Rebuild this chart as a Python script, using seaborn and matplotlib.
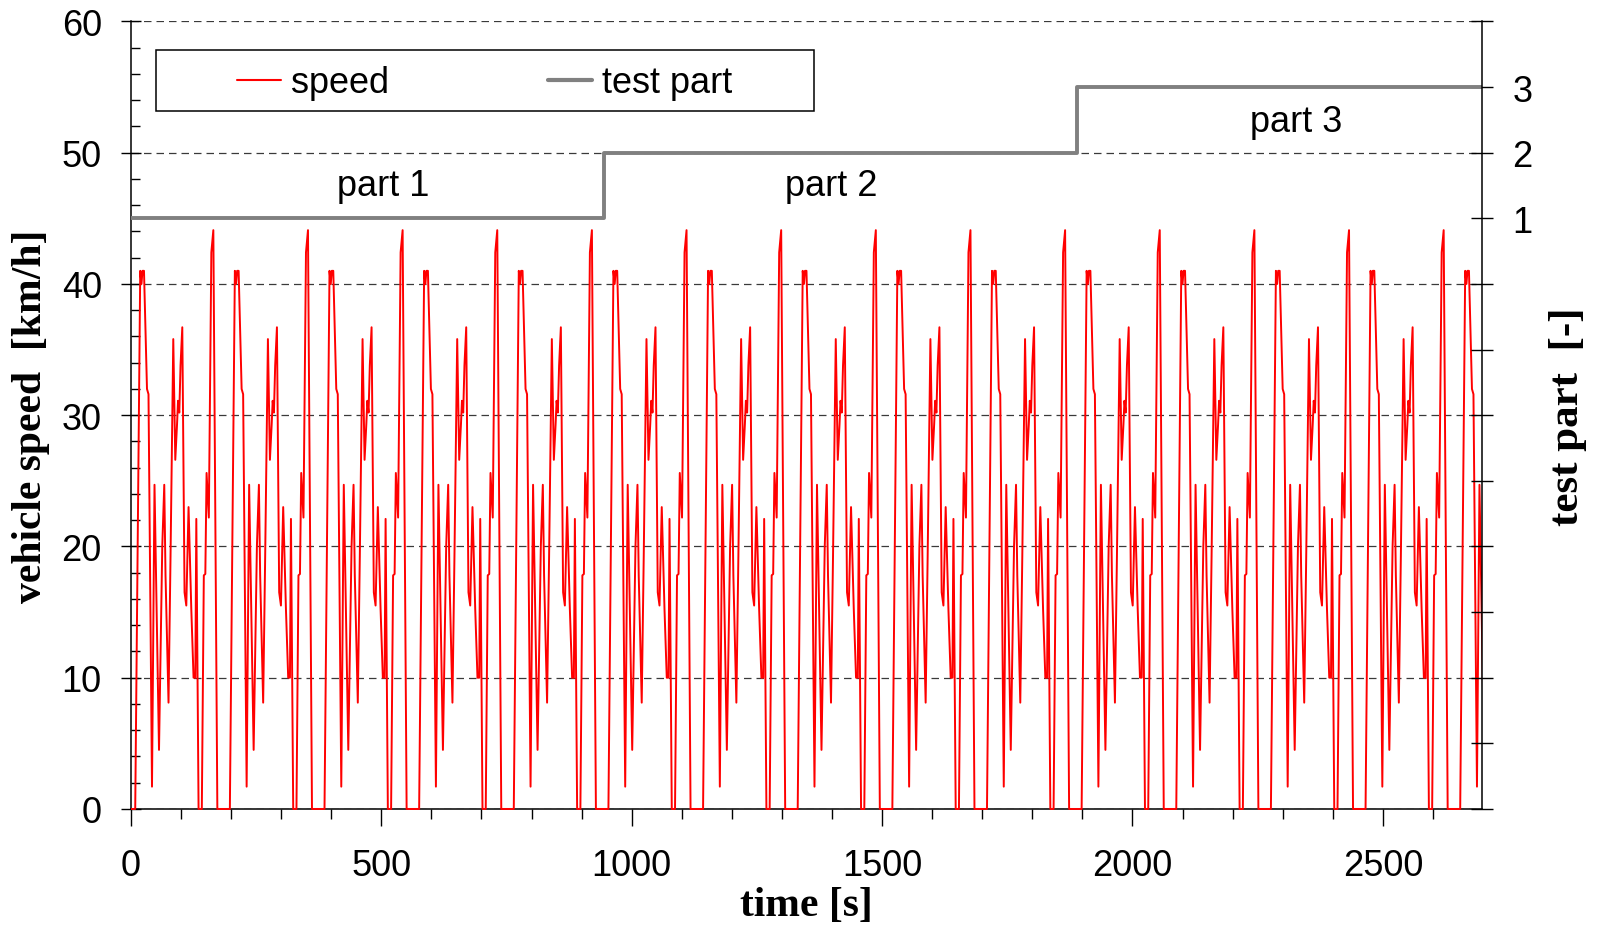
import numpy as np
import matplotlib
matplotlib.use("Agg")
import matplotlib.pyplot as plt
from matplotlib.lines import Line2D
from matplotlib.patches import Rectangle
from matplotlib.ticker import MultipleLocator, FixedLocator, FixedFormatter
import seaborn as sns

# One driving cycle (time within cycle [s], speed [km/h])
cycle_t = [0, 8.5, 18.5, 21, 23, 26, 32, 35, 42, 47, 56, 62.5, 66.5, 69, 75, 79,
           84.5, 88.5, 92, 94, 96.5, 99, 102.5, 107, 110.5, 115, 120.5, 125, 128.5,
           130.5, 135, 141.5, 145.5, 148.5, 151, 155.5, 160.5, 164.5, 172.5, 189]
cycle_v = [0, 0, 41, 40, 41, 41, 32, 31.6, 1.7, 24.7, 4.5, 20, 24.7, 17.8, 8.1, 19.2,
           35.8, 26.6, 29.3, 31.1, 30.2, 33.8, 36.7, 16.5, 15.5, 23, 15.2, 10, 10,
           22.1, 0, 0, 17.8, 17.9, 25.6, 22.2, 42.4, 44.1, 0, 0]
CYCLE_LEN = 189
N_CYCLES = 15

# Test part (step signal on the right axis)
part_t = [0, 945, 1890, 2700]
part_no = [1, 2, 3, 3]
part_labels = ["part 1", "part 2", "part 3"]

time = np.concatenate([np.array(cycle_t) + k * CYCLE_LEN for k in range(N_CYCLES)])
speed = np.concatenate([np.array(cycle_v)] * N_CYCLES)

sns.set_style("white")
plt.rcParams['font.family'] = ['Liberation Sans', 'DejaVu Sans']
plt.rcParams['text.color'] = 'black'
plt.rcParams['axes.labelcolor'] = 'black'
plt.rcParams['xtick.color'] = 'black'
plt.rcParams['ytick.color'] = 'black'
serif_bold = dict(family=['Liberation Serif', 'DejaVu Serif'], weight='bold', size=30)

fig = plt.figure(figsize=(16.03, 9.28), dpi=100)
ax = fig.add_axes([0.0817, 0.1272, 0.8428, 0.8486])
ax2 = ax.twinx()

sns.lineplot(x=time, y=speed, ax=ax, color='red', lw=1.4, estimator=None, sort=False, zorder=3)
sns.lineplot(x=part_t, y=part_no, ax=ax2, color='#808080', lw=2.8, estimator=None,
             drawstyle='steps-post')

# let the red trace show fully on the x axis line (stops at zero speed)
clip = Rectangle((0, -0.01), 1, 1.02, transform=ax.transAxes, visible=False)
ax.add_patch(clip)
ax.lines[0].set_clip_path(clip)

ax.set_xlim(0, 2698)
ax.set_ylim(0, 60)
ax2.set_ylim(-8, 4)

# left axis ticks
ax.yaxis.set_major_locator(MultipleLocator(10))
ax.yaxis.set_minor_locator(MultipleLocator(2))
ax.xaxis.set_major_locator(MultipleLocator(500))
ax.xaxis.set_minor_locator(MultipleLocator(100))
ax.tick_params(axis='y', which='major', direction='inout', length=14, width=1, labelsize=26, pad=14, left=True)
ax.tick_params(axis='y', which='minor', direction='in', length=6.5, width=1, left=True)
ax.tick_params(axis='x', which='major', direction='out', length=12, width=1, labelsize=26, pad=16, bottom=True)
ax.tick_params(axis='x', which='minor', direction='out', length=7, width=1, bottom=True)

# right axis ticks
ax2.yaxis.set_major_locator(FixedLocator(list(range(-8, 5))))
ax2.yaxis.set_major_formatter(FixedFormatter(['' if v not in (1, 2, 3) else str(v) for v in range(-8, 5)]))
ax2.tick_params(axis='y', which='major', direction='inout', length=16, width=1, labelsize=26, pad=14, right=True)

ax.grid(axis='y', which='major', linestyle=(0, (6, 4)), color='#3a3a3a', linewidth=0.9)
ax.grid(axis='x', visible=False)
ax.set_axisbelow(True)

ax.spines['top'].set_visible(False)
ax.spines['right'].set_visible(False)
for s in ('top', 'left', 'bottom'):
    ax2.spines[s].set_visible(False)
for s in ('left', 'bottom'):
    ax.spines[s].set_linewidth(1.1)
    ax.spines[s].set_color('black')
ax2.spines['right'].set_linewidth(1.1)
ax2.spines['right'].set_color('black')

ax.set_xlabel("time [s]", fontdict=serif_bold, labelpad=2)
ax.set_ylabel("vehicle speed  [km/h]", fontdict=serif_bold, labelpad=8)
ax2.set_ylabel("test part  [-]", fontdict=dict(serif_bold, size=31), labelpad=12)

# part labels
ax.text(504, 47.5, part_labels[0], fontsize=26, ha='center', va='center')
ax.text(1398, 47.5, part_labels[1], fontsize=26, ha='center', va='center')
ax.text(2327, 52.4, part_labels[2], fontsize=26, ha='center', va='center')

# legend box
ax2.add_patch(Rectangle((0.0185, 0.8863), 0.487, 0.0775, transform=ax2.transAxes,
                        facecolor='white', edgecolor='black', lw=1.1, zorder=5))
handles = [Line2D([], [], color='red', lw=1.5), Line2D([], [], color='#808080', lw=3)]
leg = ax2.legend(handles, ["speed", "test part"], ncol=2, frameon=False, fontsize=26,
                 loc='center', bbox_to_anchor=(0.262, 0.922), handlelength=1.2,
                 handletextpad=0.3, columnspacing=4.4, borderpad=0, borderaxespad=0)
leg.set_zorder(6)

fig.savefig("out.png", dpi=100)
